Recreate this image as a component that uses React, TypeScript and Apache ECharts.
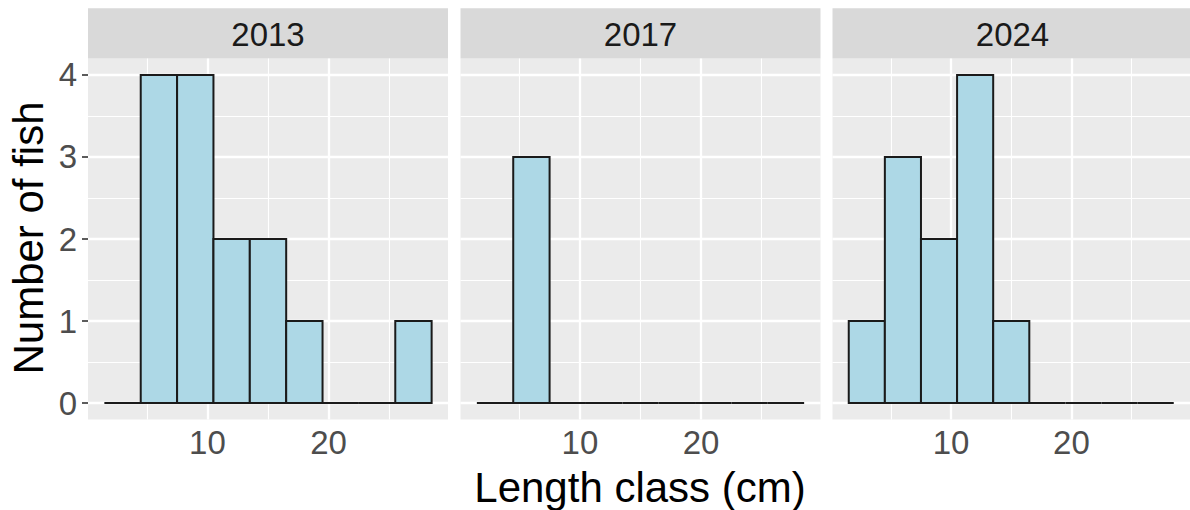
import React, { useEffect, useRef } from "react";
import * as echarts from "echarts";

// ---- data ----
const years = ["2013", "2017", "2024"];
const binEdges = [1.5, 4.5, 7.5, 10.5, 13.5, 16.5, 19.5, 22.5, 25.5, 28.5];
const counts2013 = [0, 4, 4, 2, 2, 1, 0, 0, 1];
const counts2017 = [0, 3, 0, 0, 0, 0, 0, 0, 0];
const counts2024 = [1, 3, 2, 4, 1, 0, 0, 0, 0];
const yTicks = [0, 1, 2, 3, 4];
const xTicks = [10, 20];
const yMajorGrid = [0, 1, 2, 3, 4];
const yMinorGrid = [0.5, 1.5, 2.5, 3.5];
const xMajorGrid = [10, 20];
const xMinorGrid = [5, 15, 25];

const allCounts = [counts2013, counts2017, counts2024];

const FONT = "'Liberation Sans', Arial, Helvetica, sans-serif";
const PANEL_LEFTS = [88, 460.5, 832.5];
const PANEL_W = 360;
const PANEL_TOP = 58.5;
const PANEL_H = 361;
const STRIP_TOP = 8.3;

export default function App() {
  const ref = useRef<HTMLDivElement>(null);

  useEffect(() => {
    if (!ref.current) return;
    const chart = echarts.init(ref.current, undefined, { renderer: "svg" });

    const grids = PANEL_LEFTS.map((left) => ({
      left,
      top: PANEL_TOP,
      width: PANEL_W,
      height: PANEL_H,
      show: true,
      backgroundColor: "#EBEBEB",
      borderWidth: 0,
      containLabel: false,
    }));

    const xAxes = PANEL_LEFTS.map((_, i) => ({
      type: "value",
      gridIndex: i,
      min: 0.15,
      max: 29.85,
      axisLine: { show: false },
      splitLine: { show: false },
      axisTick: {
        show: true,
        length: 6,
        customValues: xTicks,
        lineStyle: { color: "#333333", width: 1.6 },
      },
      axisLabel: {
        show: true,
        customValues: xTicks,
        margin: 6,
        color: "#4D4D4D",
        fontSize: 33,
        fontFamily: FONT,
      },
    }));

    const yAxes = PANEL_LEFTS.map((_, i) => ({
      type: "value",
      gridIndex: i,
      min: -0.2,
      max: 4.2,
      axisLine: { show: false },
      splitLine: { show: false },
      axisTick: {
        show: i === 0,
        length: 6,
        customValues: yTicks,
        lineStyle: { color: "#333333", width: 1.6 },
      },
      axisLabel: {
        show: i === 0,
        customValues: yTicks,
        margin: 11,
        color: "#4D4D4D",
        fontSize: 33,
        fontFamily: FONT,
      },
    }));

    const gridLineSeries = PANEL_LEFTS.map((_, i) => ({
      type: "line",
      xAxisIndex: i,
      yAxisIndex: i,
      data: [],
      silent: true,
      z: 1,
      markLine: {
        z: 1,
        silent: true,
        animation: false,
        symbol: ["none", "none"],
        label: { show: false },
        emphasis: { disabled: true },
        data: [
          ...yMinorGrid.map((v) => ({ yAxis: v, lineStyle: { color: "#FFFFFF", width: 1.1, type: "solid" } })),
          ...xMinorGrid.map((v) => ({ xAxis: v, lineStyle: { color: "#FFFFFF", width: 1.1, type: "solid" } })),
          ...yMajorGrid.map((v) => ({ yAxis: v, lineStyle: { color: "#FFFFFF", width: 2.3, type: "solid" } })),
          ...xMajorGrid.map((v) => ({ xAxis: v, lineStyle: { color: "#FFFFFF", width: 2.3, type: "solid" } })),
        ],
      },
    }));

    const histSeries = allCounts.map((counts, i) => ({
      type: "custom",
      name: years[i],
      xAxisIndex: i,
      yAxisIndex: i,
      z: 5,
      silent: true,
      encode: { x: [0, 1], y: 2 },
      data: counts.map((c, k) => [binEdges[k], binEdges[k + 1], c]),
      renderItem: (params: any, api: any) => {
        const x0 = api.value(0);
        const x1 = api.value(1);
        const c = api.value(2);
        const pTop = api.coord([x0, c]);
        const pBot = api.coord([x1, 0]);
        if (c === 0) {
          return {
            type: "line",
            shape: { x1: pTop[0], y1: pBot[1], x2: pBot[0], y2: pBot[1] },
            style: { stroke: "#1A1A1A", lineWidth: 2 },
          };
        }
        return {
          type: "rect",
          shape: {
            x: pTop[0],
            y: pTop[1],
            width: pBot[0] - pTop[0],
            height: pBot[1] - pTop[1],
          },
          style: { fill: "#ADD8E6", stroke: "#1A1A1A", lineWidth: 2 },
        };
      },
    }));

    const strips: any[] = [];
    PANEL_LEFTS.forEach((left, i) => {
      strips.push({
        type: "rect",
        shape: { x: left, y: STRIP_TOP, width: PANEL_W, height: PANEL_TOP - STRIP_TOP },
        style: { fill: "#D9D9D9" },
        z: 0,
      });
      strips.push({
        type: "text",
        x: left + PANEL_W / 2,
        y: (STRIP_TOP + PANEL_TOP) / 2 + 1,
        style: {
          text: years[i],
          fill: "#1A1A1A",
          font: `33px ${FONT}`,
          align: "center",
          verticalAlign: "middle",
        },
        z: 1,
      });
    });

    strips.push({
      type: "text",
      x: 640,
      y: 487,
      style: {
        text: "Length class (cm)",
        fill: "#000000",
        font: `42px ${FONT}`,
        align: "center",
        verticalAlign: "middle",
      },
    });
    strips.push({
      type: "text",
      x: 28,
      y: 238,
      rotation: Math.PI / 2,
      style: {
        text: "Number of fish",
        fill: "#000000",
        font: `42px ${FONT}`,
        align: "center",
        verticalAlign: "middle",
      },
    });

    chart.setOption({
      animation: false,
      backgroundColor: "#FFFFFF",
      grid: grids,
      xAxis: xAxes,
      yAxis: yAxes,
      series: [...gridLineSeries, ...histSeries],
      graphic: strips,
    });

    return () => chart.dispose();
  }, []);

  return (
    <div
      ref={ref}
      style={{ position: "fixed", left: 0, top: 0, width: 1190, height: 510 }}
    />
  );
}
